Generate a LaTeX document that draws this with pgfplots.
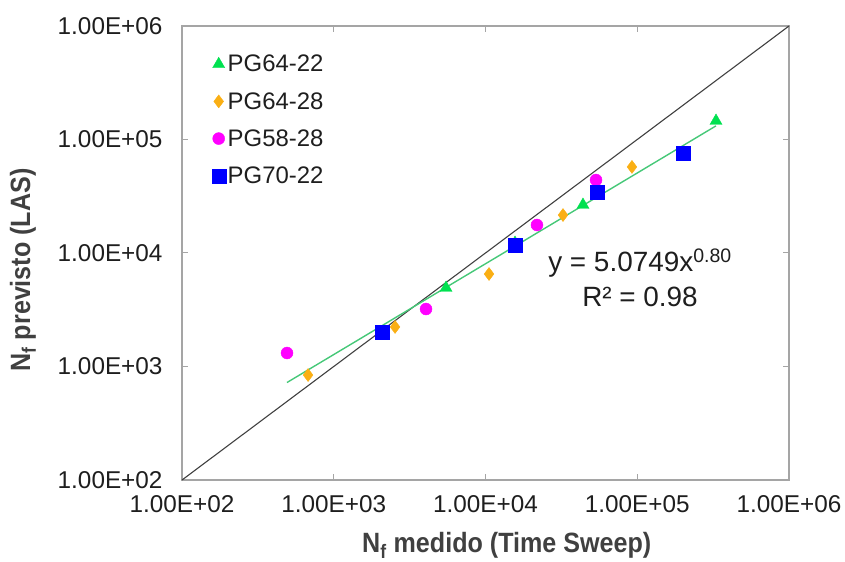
\documentclass[border=0pt]{standalone}
\usepackage{fontspec}
\setmainfont{Liberation Sans}
\newfontfamily\titlefont[FakeStretch=0.9]{Liberation Sans}
\usepackage{pgfplots}
\pgfplotsset{compat=1.18}
\definecolor{cgreen}{RGB}{0,225,80}
\definecolor{corange}{RGB}{250,175,20}
\definecolor{cmag}{RGB}{255,0,255}
\definecolor{cblue}{RGB}{0,0,255}
\definecolor{ctrend}{RGB}{70,200,120}
\definecolor{caxis}{RGB}{165,165,165}
\definecolor{ctext}{RGB}{30,30,30}
\definecolor{ctitle}{RGB}{64,64,64}
\begin{document}
\begin{tikzpicture}
\begin{axis}[
  at={(0,0)}, anchor=south west,
  scale only axis, width=607bp, height=454bp,
  xmode=log, ymode=log,
  xmin=1e2, xmax=1e6, ymin=1e2, ymax=1e6,
  xtick={1e2,1e3,1e4,1e5,1e6},
  ytick={1e2,1e3,1e4,1e5,1e6},
  xticklabels={1.00E+02,1.00E+03,1.00E+04,1.00E+05,1.00E+06},
  yticklabels={1.00E+02,1.00E+03,1.00E+04,1.00E+05,1.00E+06},
  minor tick style={draw=none},
  tick align=inside, major tick length=6bp,
  axis line style={draw=caxis, line width=1.3bp},
  tick style={draw=caxis, line width=1bp},
  ticklabel style={font=\fontsize{24.4}{28}\selectfont, text=ctext},
  xticklabel style={yshift=-12bp},
  yticklabel style={xshift=-16bp},
  xlabel={\titlefont\bfseries N\textsubscript{f} medido (Time Sweep)},
  ylabel={\titlefont\bfseries N\textsubscript{f} previsto (LAS)},
  xlabel style={at={(axis description cs:0.535,-0.144)}, anchor=center, font=\fontsize{28}{30}\selectfont, text=ctitle},
  ylabel style={at={(axis description cs:-0.262,0.4626)}, anchor=center, font=\fontsize{28}{30}\selectfont, text=ctitle},
  legend style={at={(axis description cs:0.0437,0.945)}, anchor=north west, draw=none, fill=none,
    font=\fontsize{24}{28}\selectfont, row sep=15bp, text=ctext},
  legend cell align=left,
  clip=false,
]
% 1:1 line
\addplot[forget plot, black!75, line width=1.1bp] coordinates {(1e2,1e2) (1e6,1e6)};
% power trendline y = 5.0749 x^0.80
\addplot[forget plot, ctrend, line width=1.4bp] coordinates {(492,722.7) (330400,131850)};
\addplot[only marks, mark=triangle*, mark size=7bp, color=cgreen] coordinates {
  (330400,145600) (43900,26500) (5495,4920) (15650,12250)};
\addlegendentry{PG64-22}
\addplot[only marks, mark=diamond*, mark size=6.5bp, color=corange] coordinates {
  (92300,57300) (32400,21600) (10550,6530) (2535,2230) (677,841)};
\addlegendentry{PG64-28}
\addplot[only marks, mark=*, mark size=6bp, color=cmag] coordinates {
  (492,1315) (4055,3210) (21840,17650) (53500,43950)};
\addlegendentry{PG58-28}
\addplot[only marks, mark=square*, mark size=7bp, color=cblue] coordinates {
  (2080,2014) (15650,11760) (54300,34450) (200000,76000)};
\addlegendentry{PG70-22}
\node[align=center, font=\fontsize{28}{35}\selectfont, text=ctext] at (axis cs:104300,6025)
  {y = 5.0749x\textsuperscript{0.80}\\R² = 0.98};
\end{axis}
\pgfresetboundingbox
\path (-182bp,-82bp) rectangle (663bp,480bp);
\end{tikzpicture}
\end{document}
